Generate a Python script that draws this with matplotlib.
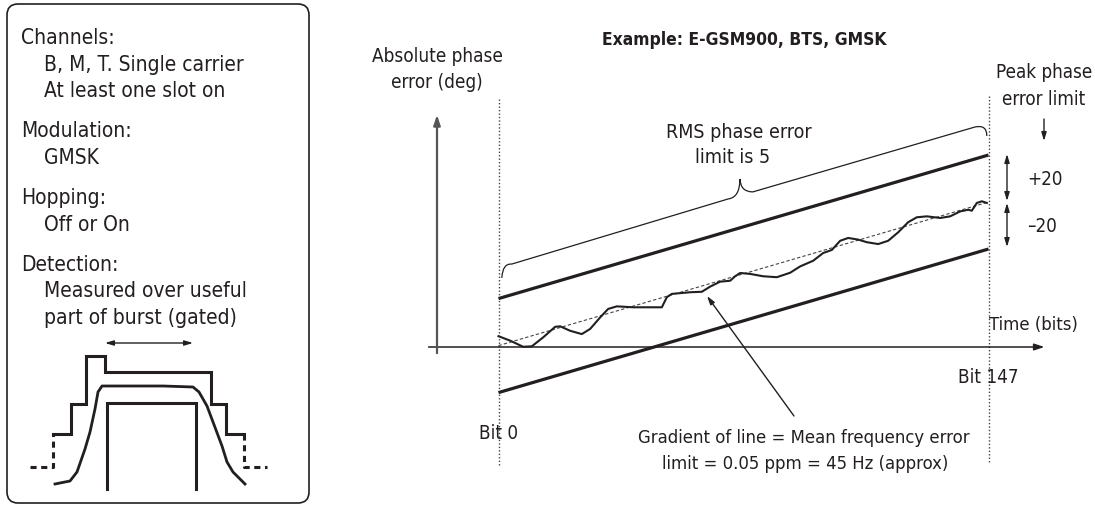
#!/usr/bin/env python3
"""Phase error / frequency error measurement diagram (E-GSM900, BTS, GMSK)."""

import matplotlib
matplotlib.use("Agg")
import matplotlib.pyplot as plt
from matplotlib.patches import FancyBboxPatch, PathPatch
from matplotlib.path import Path

plt.rcParams["font.family"] = ["DejaVu Sans"]
plt.rcParams["font.stretch"] = "condensed"

INK = "#231f20"
W, H = 1095, 506

# ---- right diagram data (bits vs degrees) ----
trace_bits = [0.0, 3.5, 7.4, 10.0, 13.4, 17.0, 18.5, 21.5, 25.0, 27.5, 30.5, 32.9, 35.5,
              40.4, 49.0, 50.5, 52.0, 57.5, 61.0, 63.5, 66.5, 69.5, 71.0, 72.5, 75.5,
              79.4, 83.5, 87.5, 90.5, 94.4, 97.4, 100.0, 102.5, 104.9, 107.9, 110.5,
              113.9, 116.9, 119.9, 122.9, 125.5, 128.5, 132.5, 135.5, 138.5, 140.9,
              142.0, 143.5, 145.0, 146.5]
trace_deg = [4.6, 2.7, 0.1, 0.3, 4.1, 8.6, 8.8, 6.9, 5.5, 7.7, 12.6, 16.2, 17.3,
             16.9, 16.9, 21.2, 22.6, 23.3, 23.5, 25.7, 27.8, 28.2, 30.1, 31.5, 31.1,
             30.1, 29.7, 31.6, 34.3, 36.7, 40.0, 41.3, 45.2, 46.4, 45.7, 44.6,
             43.8, 45.2, 48.8, 53.1, 55.2, 55.6, 54.9, 55.6, 57.7, 58.4,
             58.0, 61.3, 62.0, 61.3]
gate_bits = [0, 147]
mean_deg = [0.6, 61.7]
peak_limit = 20

# brace over the upper limit line (bits, degrees)
brace_pts = [(1.0, 29.4), (1.2, 35.6), (4.0, 35.3), (68.9, 63.0), (72.4, 63.6),
             (72.45, 71.5), (72.6, 66.0), (76.3, 66.0), (142.9, 93.6), (146.5, 94.8),
             (146.5, 89.8)]

# ---- left panel burst sketch (panel pixels) ----
mask_x = [53, 71, 71, 86, 86, 105, 105, 211, 211, 226, 226, 244]
mask_y = [435, 435, 405, 405, 357, 357, 373, 373, 405, 405, 435, 435]
mask_left_x, mask_left_y = [30, 53, 53], [468, 468, 435]
mask_right_x, mask_right_y = [244, 244, 267], [435, 468, 468]
gate_x = [107, 107, 196, 196]
gate_y = [490, 404, 404, 490]
env_x = [55, 70, 77, 85, 90, 95, 98, 102, 107, 133, 163, 193, 199, 207, 213, 222, 227, 233, 245]
env_y = [485, 482, 473, 450, 433, 410, 393, 387, 387, 387, 387, 388, 393, 407, 423, 447, 463, 473, 485]

panel_lines = [
    ("Channels:", 21, 44), ("B, M, T. Single carrier", 44, 71), ("At least one slot on", 44, 97),
    ("Modulation:", 21, 137), ("GMSK", 44, 164),
    ("Hopping:", 21, 204), ("Off or On", 44, 231),
    ("Detection:", 21, 271), ("Measured over useful", 44, 297), ("part of burst (gated)", 44, 324),
]

# pixel mapping for the right diagram
BIT_PX = 490 / 147
DEG_PX = 2.35
X0, Y0 = 498.5, 348
xlim = (-26, 178)
ylim = (-66, 148)

fig = plt.figure(figsize=(W / 100, H / 100), dpi=100)
left = (X0 + xlim[0] * BIT_PX) / W
width = (xlim[1] - xlim[0]) * BIT_PX / W
bottom = (H - (Y0 - ylim[0] * DEG_PX)) / H
height = (ylim[1] - ylim[0]) * DEG_PX / H
ax = fig.add_axes([left, bottom, width, height])
ax.set_xlim(*xlim)
ax.set_ylim(*ylim)
ax.axis("off")

# axes of the sketch
ax.annotate("", xy=(164.6, 0), xytext=(-21.8, 0),
            arrowprops=dict(arrowstyle="-|>,head_length=0.6,head_width=0.2", color=INK, lw=1.1))
ax.annotate("", xy=(-18.45, 100), xytext=(-18.45, -3.8),
            arrowprops=dict(arrowstyle="-|>,head_length=0.6,head_width=0.2", color="#555555", lw=1.6))

# gate markers
ax.plot([gate_bits[0]] * 2, [105.5, -50.6], color="#444444", lw=1, ls=(0, (1, 1.5)))
ax.plot([gate_bits[1]] * 2, [106.8, -48.9], color="#444444", lw=1, ls=(0, (1, 1.5)))

# mean line and limits
ax.plot(gate_bits, mean_deg, color="#444444", lw=0.8, ls=(0, (3, 2)))
ax.plot(gate_bits, [m + peak_limit for m in mean_deg], color=INK, lw=2.3, solid_capstyle="butt")
ax.plot(gate_bits, [m - peak_limit for m in mean_deg], color=INK, lw=2.3, solid_capstyle="butt")

# measured phase trajectory
ax.plot(trace_bits, trace_deg, color=INK, lw=1.5, solid_joinstyle="round")

# brace
codes = [Path.MOVETO, Path.CURVE3, Path.CURVE3, Path.LINETO, Path.CURVE3, Path.CURVE3,
         Path.CURVE3, Path.CURVE3, Path.LINETO, Path.CURVE3, Path.CURVE3]
ax.add_patch(PathPatch(Path(brace_pts, codes), fill=False, color=INK, lw=0.9))

# ---- overlay in figure pixels: left panel and labels ----
ov = fig.add_axes([0, 0, 1, 1])
ov.set_xlim(0, W)
ov.set_ylim(H, 0)
ov.axis("off")
ov.patch.set_visible(False)

ov.add_patch(FancyBboxPatch((7, 5), 302, 499, boxstyle="round,pad=0,rounding_size=11",
                            fill=False, ec=INK, lw=1.2))
for txt, x, y in panel_lines:
    ov.text(x, y, txt, fontsize=15, color=INK, va="baseline", ha="left")

ov.plot(mask_x, mask_y, color=INK, lw=2.2, solid_joinstyle="miter")
ov.plot(mask_left_x, mask_left_y, color=INK, lw=2.2, ls=(0, (2, 1.5)))
ov.plot(mask_right_x, mask_right_y, color=INK, lw=2.2, ls=(0, (2, 1.5)))
ov.plot(gate_x, gate_y, color=INK, lw=2.2, solid_joinstyle="miter")
ov.plot(env_x, env_y, color=INK, lw=2.0)
ov.annotate("", xy=(193, 344), xytext=(105, 344),
            arrowprops=dict(arrowstyle="<|-|>,head_length=0.5,head_width=0.15", color=INK, lw=1.0,
                            shrinkA=0, shrinkB=0))

labels = [
    ("Absolute phase", 437, 62, "center", 13.6), ("error (deg)", 437, 88, "center", 13.6),
    ("RMS phase error", 739, 138, "center", 14), ("limit is 5", 733, 163, "center", 14),
    ("Peak phase", 1044, 78, "center", 13.5), ("error limit", 1044, 105, "center", 13.5),
    ("+20", 1027, 185, "left", 13.5), ("\u201320", 1027, 232, "left", 13.5),
    ("Time (bits)", 989, 330, "left", 13.2), ("Bit 147", 988, 383, "center", 13.5),
    ("Bit 0", 499, 439, "center", 13.5),
    ("Gradient of line = Mean frequency error", 804, 443, "center", 13.2),
    ("limit = 0.05 ppm = 45 Hz (approx)", 805, 469, "center", 13.2),
]
for txt, x, y, ha, fs in labels:
    ov.text(x, y, txt, fontsize=fs, color=INK, va="baseline", ha=ha)
ov.text(744, 45, "Example: E-GSM900, BTS, GMSK", fontsize=12.5, fontweight="bold",
        color=INK, va="baseline", ha="center")

small = dict(arrowstyle="-|>,head_length=0.5,head_width=0.15", color=INK, lw=1.0, shrinkA=0, shrinkB=0)
both = dict(arrowstyle="<|-|>,head_length=0.5,head_width=0.15", color=INK, lw=1.0, shrinkA=0, shrinkB=0)
ov.annotate("", xy=(1044, 142), xytext=(1044, 120), arrowprops=small)
ov.annotate("", xy=(1007, 202), xytext=(1007, 155), arrowprops=both)
ov.annotate("", xy=(1007, 248), xytext=(1007, 204), arrowprops=both)
ov.annotate("", xy=(707, 297), xytext=(794, 417), arrowprops=small)

fig.savefig("out.png", dpi=100)
